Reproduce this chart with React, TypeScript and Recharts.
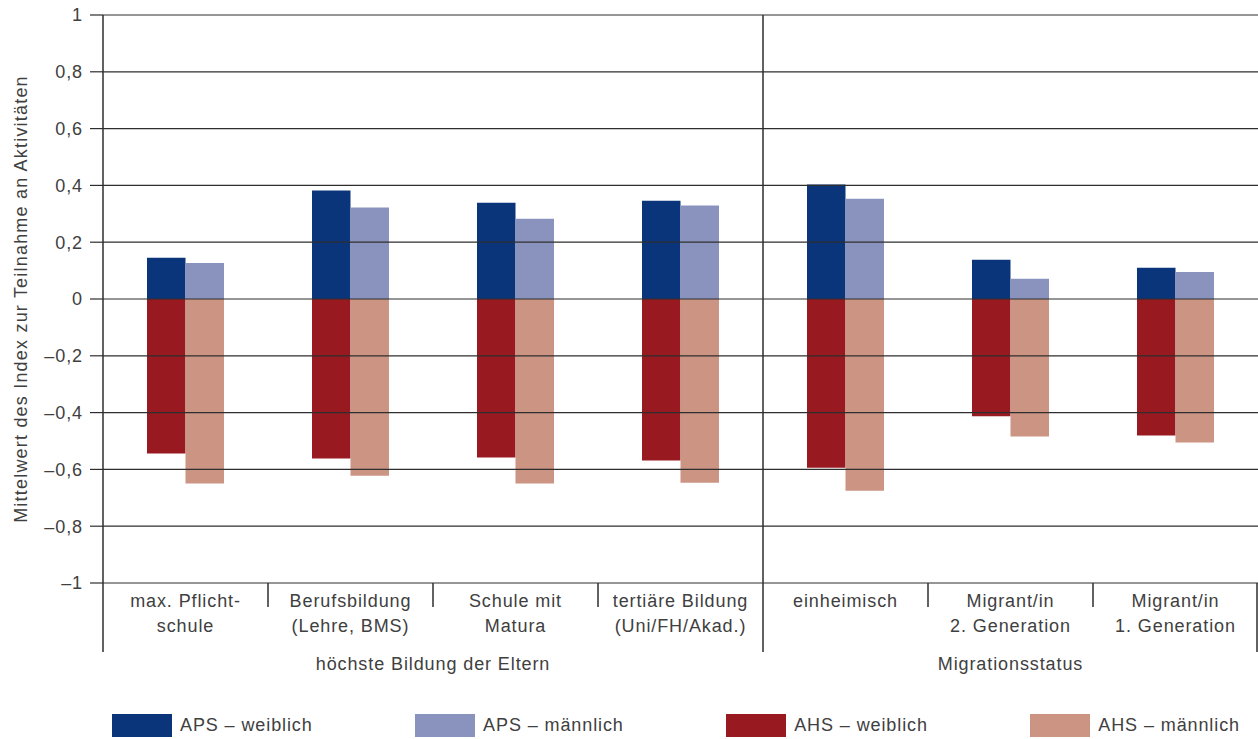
import React from 'react';
import { BarChart, Bar, XAxis, YAxis, ReferenceLine, Legend } from 'recharts';

const categories = [
  'max. Pflicht-\nschule',
  'Berufsbildung\n(Lehre, BMS)',
  'Schule mit\nMatura',
  'tertiäre Bildung\n(Uni/FH/Akad.)',
  'einheimisch',
  'Migrant/in\n2. Generation',
  'Migrant/in\n1. Generation',
];

const apsWeiblich = [0.145, 0.382, 0.339, 0.346, 0.403, 0.138, 0.11];
const apsMaennlich = [0.127, 0.322, 0.283, 0.329, 0.353, 0.071, 0.095];
const ahsWeiblich = [-0.544, -0.562, -0.558, -0.569, -0.594, -0.413, -0.481];
const ahsMaennlich = [-0.65, -0.622, -0.65, -0.647, -0.675, -0.484, -0.505];

const groupLabels = ['höchste Bildung der Eltern', 'Migrationsstatus'];
const groupSpans = [4, 3];

const yTicks = [-1, -0.8, -0.6, -0.4, -0.2, 0, 0.2, 0.4, 0.6, 0.8, 1];

const seriesNames = ['APS – weiblich', 'APS – männlich', 'AHS – weiblich', 'AHS – männlich'];
const seriesColors = ['#0b357b', '#8a93bd', '#981a20', '#cb9483'];

const Y_TITLE = 'Mittelwert des Index zur Teilnahme an Aktivitäten';

const data = categories.map((name, i) => ({
  name,
  apsW: apsWeiblich[i],
  apsM: apsMaennlich[i],
  ahsW: ahsWeiblich[i],
  ahsM: ahsMaennlich[i],
}));

const W = 1258;
const H = 739;
const Y_AXIS_W = 103;
const PLOT_TOP = 15;
const PLOT_W = W - Y_AXIS_W;
const BAND = PLOT_W / categories.length;

const FONT = '"Liberation Sans", Arial, sans-serif';
const TEXT = '#404040';
const LINE = '#2e2e2e';
const textStyle = { letterSpacing: '0.9px' };

const fmt = (v: number) => {
  if (v === 0) return '0';
  const s = Math.abs(v).toString().replace('.', ',');
  return v < 0 ? '–' + s : s;
};

function YTick(props: any) {
  const { x, y, payload } = props;
  return (
    <text x={x} y={y} dy="0.35em" textAnchor="end" fontFamily={FONT} fontSize={18} fill={TEXT} style={textStyle}>
      {fmt(payload.value)}
    </text>
  );
}

function XTick(props: any) {
  const { x, y, payload, index } = props;
  const lines = String(payload.value).split('\n');
  const left = x - BAND / 2;
  const right = x + BAND / 2;
  const els: React.ReactNode[] = [];
  // separator at left edge of each category
  if (index === 0 || index === 4) {
    els.push(<line key="sepL" x1={left} x2={left} y1={y} y2={y + 69} stroke={LINE} strokeWidth={1.5} />);
  } else {
    els.push(<line key="sepL" x1={left} x2={left} y1={y} y2={y + 24} stroke={LINE} strokeWidth={1.5} />);
  }
  if (index === categories.length - 1) {
    els.push(<line key="sepR" x1={right - 1} x2={right - 1} y1={y} y2={y + 69} stroke={LINE} strokeWidth={1.5} />);
  }
  lines.forEach((ln, i) => {
    els.push(
      <text key={'t' + i} x={x} y={y + 24 + i * 25} textAnchor="middle" fontFamily={FONT} fontSize={18} fill={TEXT} style={textStyle}>
        {ln}
      </text>
    );
  });
  // group label under the first category of each group
  let start = 0;
  groupSpans.forEach((span, g) => {
    if (index === start) {
      const cx = left + (span * BAND) / 2;
      els.push(
        <text key={'g' + g} x={cx} y={y + 87} textAnchor="middle" fontFamily={FONT} fontSize={18} fill={TEXT} style={textStyle}>
          {groupLabels[g]}
        </text>
      );
    }
    start += span;
  });
  return <g>{els}</g>;
}

function YTitle(props: any) {
  const vb = props.viewBox || { x: 0, y: PLOT_TOP, width: Y_AXIS_W, height: 566 };
  const cx = vb.x + 27;
  const cy = vb.y + vb.height / 2;
  return (
    <text x={cx} y={cy} textAnchor="middle" transform={`rotate(-90, ${cx}, ${cy})`} fontFamily={FONT} fontSize={18} fill={TEXT} style={{ letterSpacing: '1.2px' }}>
      {Y_TITLE}
    </text>
  );
}

function LegendContent() {
  return (
    <div
      style={{
        display: 'flex',
        justifyContent: 'space-between',
        paddingLeft: 112,
        paddingRight: 18,
        height: 24,
        fontFamily: FONT,
        fontSize: 18,
        color: TEXT,
        letterSpacing: '0.9px',
      }}
    >
      {seriesNames.map((n, i) => (
        <div key={n} style={{ display: 'flex', alignItems: 'center' }}>
          <span style={{ display: 'inline-block', width: 60, height: 23, background: seriesColors[i], marginRight: 8 }} />
          <span>{n}</span>
        </div>
      ))}
    </div>
  );
}

export default function App() {
  return (
    <div style={{ position: 'absolute', left: 0, top: 0, width: W, height: H, background: '#fff' }}>
      <BarChart
        width={W}
        height={H}
        data={data}
        margin={{ top: PLOT_TOP, right: 0, left: 0, bottom: 42 }}
        stackOffset="sign"
        barGap={0}
        barSize={38.5}
      >
        <XAxis
          dataKey="name"
          height={90}
          axisLine={false}
          tickLine={false}
          tickSize={0}
          tickMargin={0}
          interval={0}
          tick={<XTick />}
        />
        <YAxis
          width={Y_AXIS_W}
          domain={[-1, 1]}
          ticks={yTicks}
          interval={0}
          tickSize={13}
          tickMargin={7}
          axisLine={{ stroke: LINE, strokeWidth: 1.5 }}
          tickLine={{ stroke: LINE, strokeWidth: 1.2 }}
          tick={<YTick />}
          label={<YTitle />}
        />
        <Bar dataKey="apsW" stackId="w" fill={seriesColors[0]} name={seriesNames[0]} isAnimationActive={false} />
        <Bar dataKey="apsM" stackId="m" fill={seriesColors[1]} name={seriesNames[1]} isAnimationActive={false} />
        <Bar dataKey="ahsW" stackId="w" fill={seriesColors[2]} name={seriesNames[2]} isAnimationActive={false} />
        <Bar dataKey="ahsM" stackId="m" fill={seriesColors[3]} name={seriesNames[3]} isAnimationActive={false} />
        {yTicks.map((t) => (
          <ReferenceLine key={t} y={t} stroke={LINE} strokeWidth={1.2} />
        ))}
        <ReferenceLine x={categories[4]} position="start" stroke={LINE} strokeWidth={1.5} />
        <Legend
          content={<LegendContent />}
          wrapperStyle={{ position: 'absolute', left: 0, top: 713, width: W, height: 24 }}
        />
      </BarChart>
    </div>
  );
}
